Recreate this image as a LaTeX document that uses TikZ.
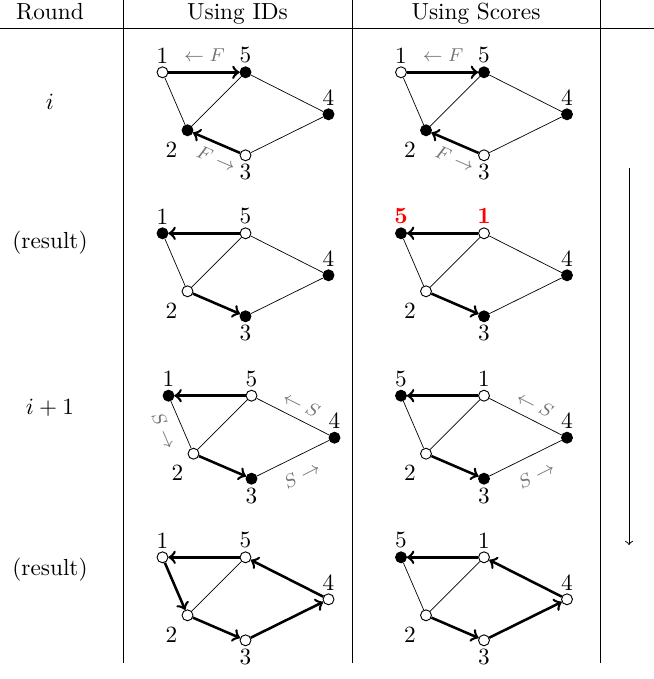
\documentclass[tikz,border=0pt]{standalone}
\usetikzlibrary{calc}
\newcommand\gnodes[8]{%
  \node[#4] (#1a) at (#2,#3) {};
  \node[#5] (#1b) at ({#2+83},#3) {};
  \node[#6] (#1c) at ({#2+166},{#3+42}) {};
  \node[#7] (#1d) at ({#2+25},{#3+58}) {};
  \node[#8] (#1e) at ({#2+83},{#3+83}) {};
}
\newcommand\glabels[4]{%
  \node[vlbl,#2] (#1la) at ($(#1a)+(0,-17)$) {#3};
  \node[vlbl,#2] (#1lb) at ($(#1b)+(0,-17)$) {#4};
  \node[vlbl] (#1lc) at ($(#1c)+(0,-17)$) {4};
  \node[vlbl] (#1ld) at ($(#1d)+(-16,19)$) {2};
  \node[vlbl] (#1le) at ($(#1e)+(0,17)$) {3};
}
\newcommand\gedges[1]{%
  \draw[thinedge] (#1a)--(#1b) (#1a)--(#1d) (#1b)--(#1d) (#1b)--(#1c) (#1c)--(#1e) (#1d)--(#1e);
}
\begin{document}
\begin{tikzpicture}[x=0.43pt,y=-0.43pt,
  vtx/.style={circle,draw,line width=0.4pt,inner sep=0pt,minimum size=4.7pt},
  wn/.style={vtx,fill=white},
  bn/.style={vtx,fill=black},
  thinedge/.style={line width=0.3pt},
  arr/.style={line width=1.1pt,->},
  elbl/.style={text=black!55,font=\footnotesize,inner sep=0pt},
  vlbl/.style={inner sep=0pt},
  redlbl/.style={text=red,font=\bfseries},
  rule/.style={line width=0.6pt},
  vline/.style={line width=0.4pt}]
\useasboundingbox (0,0) rectangle (654,679);
% header
\node[anchor=base] (hr) at (50,19.5) {Round};
\node[anchor=base] (hi) at (237.5,19.5) {Using IDs};
\node[anchor=base] (hs) at (476,19.5) {Using Scores};
\draw[rule] (0,28.5) -- (654,28.5);
\draw[vline] (123,0) -- (123,663);
\draw[vline] (352,0) -- (352,663);
\draw[vline] (600,0) -- (600,663);
% row labels
\node (r1) at (50,102) {$i$};
\node (r2) at (50,243) {(result)};
\node (r3) at (50,408) {$i+1$};
\node (r4) at (50,570) {(result)};
% right arrow
\coordinate (atop) at (629,168);
\coordinate (abot) at (629,545);
\draw[->,line width=0.4pt] (atop) -- (abot);

% ---- row 1 ----
\gnodes{gAi}{162.5}{72.3}{wn}{bn}{bn}{bn}{wn}
\glabels{gAi}{}{1}{5}
\gedges{gAi}
\draw[arr] (gAia) -- (gAib);
\draw[arr] (gAie) -- (gAid);
\node[elbl] (gAif1) at ($(gAia)+(42,-17)$) {$\leftarrow F$};
\node[elbl,rotate=-23.3] (gAif2) at ($(gAia)+(54,86)$) {$F\rightarrow$};

\gnodes{gAs}{401}{72.3}{wn}{bn}{bn}{bn}{wn}
\glabels{gAs}{}{1}{5}
\gedges{gAs}
\draw[arr] (gAsa) -- (gAsb);
\draw[arr] (gAse) -- (gAsd);
\node[elbl] (gAsf1) at ($(gAsa)+(42,-17)$) {$\leftarrow F$};
\node[elbl,rotate=-23.3] (gAsf2) at ($(gAsa)+(54,86)$) {$F\rightarrow$};

% ---- row 2 ----
\gnodes{gBi}{162.5}{233.3}{bn}{wn}{bn}{wn}{bn}
\glabels{gBi}{}{1}{5}
\gedges{gBi}
\draw[arr] (gBib) -- (gBia);
\draw[arr] (gBid) -- (gBie);

\gnodes{gBs}{401}{233.3}{bn}{wn}{bn}{wn}{bn}
\glabels{gBs}{redlbl}{5}{1}
\gedges{gBs}
\draw[arr] (gBsb) -- (gBsa);
\draw[arr] (gBsd) -- (gBse);

% ---- row 3 ----
\gnodes{gCi}{168.5}{395.7}{bn}{wn}{bn}{wn}{bn}
\glabels{gCi}{}{1}{5}
\gedges{gCi}
\draw[arr] (gCib) -- (gCia);
\draw[arr] (gCid) -- (gCie);
\node[elbl,rotate=-66.7] (gCis1) at ($(gCia)+(-4,35)$) {$S\rightarrow$};
\node[elbl,rotate=-26.8] (gCis2) at ($(gCia)+(133,8.3)$) {$\leftarrow S$};
\node[elbl,rotate=26.8] (gCis3) at ($(gCia)+(133,79)$) {$S\rightarrow$};

\gnodes{gCs}{401}{395.7}{bn}{wn}{bn}{wn}{bn}
\glabels{gCs}{}{5}{1}
\gedges{gCs}
\draw[arr] (gCsb) -- (gCsa);
\draw[arr] (gCsd) -- (gCse);
\node[elbl,rotate=-26.8] (gCss2) at ($(gCsa)+(134,8.3)$) {$\leftarrow S$};
\node[elbl,rotate=26.8] (gCss3) at ($(gCsa)+(135,79)$) {$S\rightarrow$};

% ---- row 4 ----
\gnodes{gDi}{162.5}{557.3}{wn}{wn}{wn}{wn}{wn}
\glabels{gDi}{}{1}{5}
\gedges{gDi}
\draw[arr] (gDib) -- (gDia);
\draw[arr] (gDia) -- (gDid);
\draw[arr] (gDid) -- (gDie);
\draw[arr] (gDie) -- (gDic);
\draw[arr] (gDic) -- (gDib);

\gnodes{gDs}{401}{557.3}{bn}{wn}{wn}{wn}{wn}
\glabels{gDs}{}{5}{1}
\gedges{gDs}
\draw[arr] (gDsb) -- (gDsa);
\draw[arr] (gDsd) -- (gDse);
\draw[arr] (gDse) -- (gDsc);
\draw[arr] (gDsc) -- (gDsb);
\end{tikzpicture}
\end{document}
